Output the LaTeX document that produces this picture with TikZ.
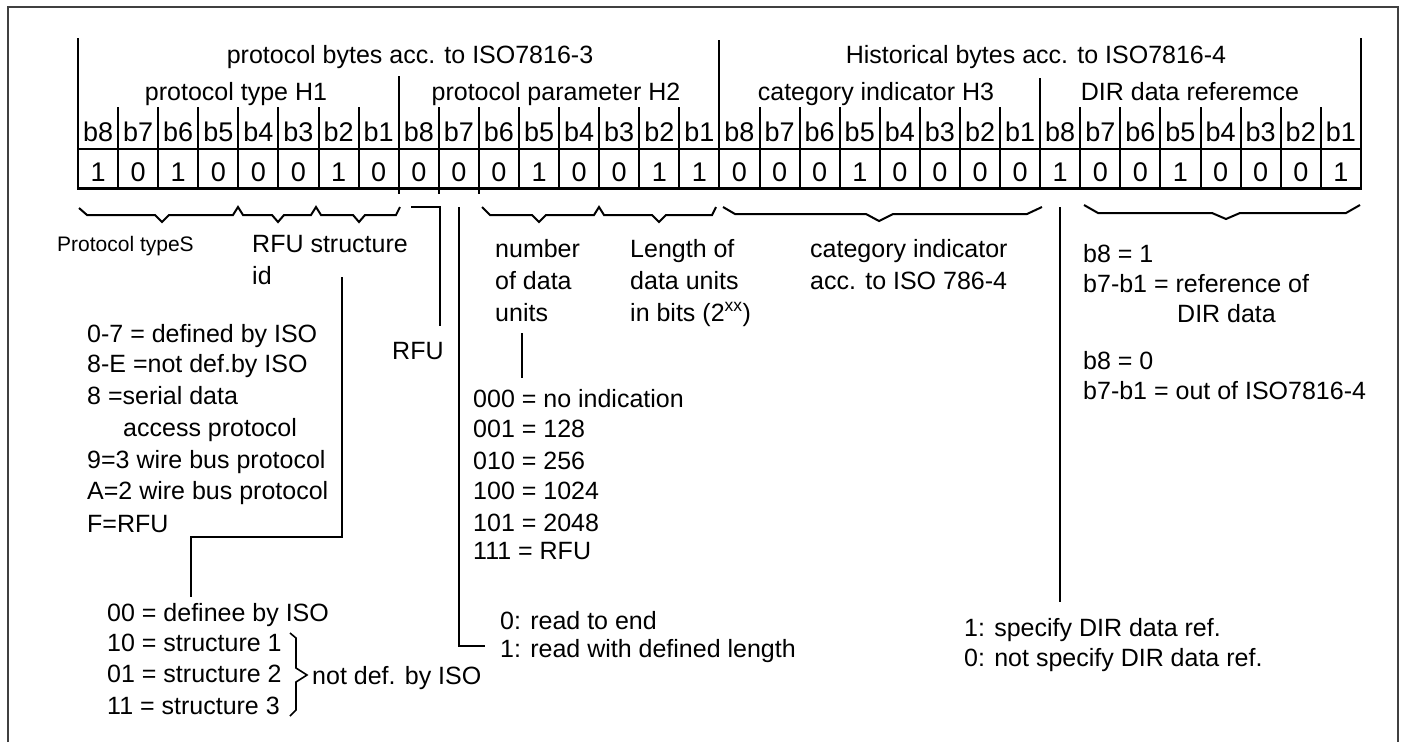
\documentclass[tikz,border=0pt]{standalone}
\usepackage{fontspec}
\setmainfont{Liberation Sans}
\begin{document}
\begin{tikzpicture}[x=1pt,y=-1pt,
  txt/.style={inner sep=0pt, anchor=base west, font=\fontsize{25}{30}\selectfont},
  ctxt/.style={inner sep=0pt, anchor=base, font=\fontsize{25}{30}\selectfont},
  btxt/.style={inner sep=0pt, anchor=base, font=\fontsize{27}{30}\selectfont},
  stxt/.style={inner sep=0pt, anchor=base west, font=\fontsize{21}{25}\selectfont},
  ln/.style={line width=2pt, line join=miter},
  tln/.style={line width=1.6pt},
  frame/.style={line width=1.8pt, black!75}]
\useasboundingbox (0,0) rectangle (1403,742);
% outer frame
\coordinate (fbl) at (8,742);
\coordinate (ftl) at (8,7);
\coordinate (ftr) at (1398,7);
\coordinate (fbr) at (1398,742);
\draw[frame] (fbl) -- (ftl) -- (ftr) -- (fbr);

% ---------- table ----------
\def\cw{40.09}
\foreach \i in {0,...,32} {
  \coordinate (t\i) at ({78+\i*\cw},107);
  \coordinate (u\i) at ({78+\i*\cw},188);
}
% outer / byte dividers
\draw[ln] (78,38) -- (78,188);
\draw[ln] (1361,38) -- (1361,188);
\draw[ln] ({78+16*\cw},40) -- ({78+16*\cw},188);
\draw[ln] ({78+8*\cw},76) -- ({78+8*\cw},194);
\draw[ln] ({78+24*\cw},78) -- ({78+24*\cw},188);
\foreach \i in {1,...,7,9,10,...,15,17,18,...,23,25,26,...,31} {
  \draw[ln] (t\i) -- (u\i);
}
\draw[ln] ({78+9*\cw},188) -- ({78+9*\cw},194);
\draw[ln] ({78+10*\cw},188) -- ({78+10*\cw},194);
\draw[tln] (78,149) -- (1361,149);
\draw[line width=3pt] (77,188) -- (1362,188);

% header texts
\node[ctxt] (hA) at (410,63) {protocol bytes acc. to ISO7816-3};
\node[ctxt] (hB) at (1036,63) {Historical bytes acc. to ISO7816-4};
\node[ctxt] (h1) at (236,100) {protocol type H1};
\node[ctxt] (h2) at (556,100) {protocol parameter H2};
\node[ctxt] (h3) at (876,100) {category indicator H3};
\node[ctxt] (h4) at (1190,100) {DIR data referemce};

% bit labels and values
\foreach \v [count=\i from 0] in {1,0,1,0,0,0,1,0, 0,0,0,1,0,0,1,1, 0,0,0,1,0,0,0,0, 1,0,0,1,0,0,0,1} {
  \pgfmathtruncatemacro\bb{8-mod(\i,8)}
  \node[btxt] (b\i) at ({78+(\i+0.5)*\cw},141) {b\bb};
  \node[btxt] (v\i) at ({78+(\i+0.5)*\cw},181) {\v};
}

% ---------- braces under the table ----------
\draw[ln] (79,208) -- (87,215) -- (155,215) -- (162,222) -- (169,215) -- (233,215) -- (238,207)
  -- (243,215) -- (272,215) -- (278,222) -- (284,215) -- (311,215) -- (316,207)
  -- (321,215) -- (353,215) -- (359,222) -- (365,215) -- (396,215) -- (400,207);
\draw[ln] (482,207) -- (490,215) -- (532,215) -- (539,222) -- (546,215) -- (594,215) -- (599,207)
  -- (604,215) -- (652,215) -- (659,222) -- (666,215) -- (712,215) -- (716,207);
\draw[ln] (723,207) -- (735,214) -- (866,214) -- (879,221) -- (893,214) -- (1027,214) -- (1042,207);
\draw[ln] (1084,205) -- (1098,213) -- (1212,213) -- (1226,219) -- (1240,213) -- (1346,213) -- (1360,205);

% ---------- left part ----------
\node[stxt] (pts) at (57,251) {Protocol typeS};
\node[txt] (rfus) at (252,252) {RFU structure};
\node[txt] (rfuid) at (252,284) {id};
\node[txt] (l1) at (87,342) {0-7 = defined by ISO};
\node[txt] (l2) at (87,372) {8-E =not def.by ISO};
\node[txt] (l3) at (87,404) {8 =serial data};
\node[txt] (l4) at (123,436) {access protocol};
\node[txt] (l5) at (87,468) {9=3 wire bus protocol};
\node[txt] (l6) at (87,499) {A=2 wire bus protocol};
\node[txt] (l7) at (87,532) {F=RFU};
\node[txt] (s0) at (107,621) {00 = definee by ISO};
\node[txt] (s1) at (107,651) {10 = structure 1};
\node[txt] (s2) at (107,682) {01 = structure 2};
\node[txt] (s3) at (107,714) {11 = structure 3};
\node[txt] (nd) at (312,684) {not def. by ISO};
\node[txt] (rfu) at (392,359) {RFU};

% connector from structure id to structure list
\coordinate (idA) at (342,277);
\coordinate (idB) at (342,537);
\coordinate (idC) at (191,537);
\coordinate (idD) at (191,597);
\draw[ln] (idA) -- (idB) -- (idC) -- (idD);
% brace for structures
\draw[tln] (290,633) -- (296,638) -- (296,668) -- (307,675) -- (296,682) -- (296,710) -- (290,716);

% RFU bracket
\coordinate (rA) at (411,207);
\coordinate (rB) at (440,207);
\coordinate (rC) at (440,326);
\draw[ln] (rA) -- (rB) -- (rC);

% ---------- middle part ----------
\node[txt] (n1) at (495,257) {number};
\node[txt] (n2) at (495,289) {of data};
\node[txt] (n3) at (495,321) {units};
\node[txt] (L1) at (630,257) {Length of};
\node[txt] (L2) at (630,289) {data units};
\node[txt] (L3) at (630,321) {in bits (2\textsuperscript{xx})};
\node[txt] (c1) at (810,257) {category indicator};
\node[txt] (c2) at (810,289) {acc. to ISO 786-4};

\coordinate (uA) at (522,333);
\coordinate (uB) at (522,378);
\draw[ln] (uA) -- (uB);

\node[txt] (k1) at (473,407) {000 = no indication};
\node[txt] (k2) at (473,437) {001 = 128};
\node[txt] (k3) at (473,469) {010 = 256};
\node[txt] (k4) at (473,499) {100 = 1024};
\node[txt] (k5) at (473,531) {101 = 2048};
\node[txt] (k6) at (473,559) {111 = RFU};

\coordinate (gA) at (459,207);
\coordinate (gB) at (459,646);
\coordinate (gC) at (485,646);
\draw[ln] (gA) -- (gB) -- (gC);
\node[txt] (r1) at (500,629) {0: read to end};
\node[txt] (r2) at (500,657) {1: read with defined length};

% ---------- right part ----------
\node[txt] (d1) at (1083,262) {b8 = 1};
\node[txt] (d2) at (1083,292) {b7-b1 = reference of};
\node[txt] (d3) at (1177,322) {DIR data};
\node[txt] (d4) at (1083,369) {b8 = 0};
\node[txt] (d5) at (1083,399) {b7-b1 = out of ISO7816-4};

\coordinate (hA1) at (1060,207);
\coordinate (hA2) at (1060,602);
\draw[ln] (hA1) -- (hA2);
\node[txt] (e1) at (964,636) {1: specify DIR data ref.};
\node[txt] (e2) at (964,666) {0: not specify DIR data ref.};
\end{tikzpicture}
\end{document}
